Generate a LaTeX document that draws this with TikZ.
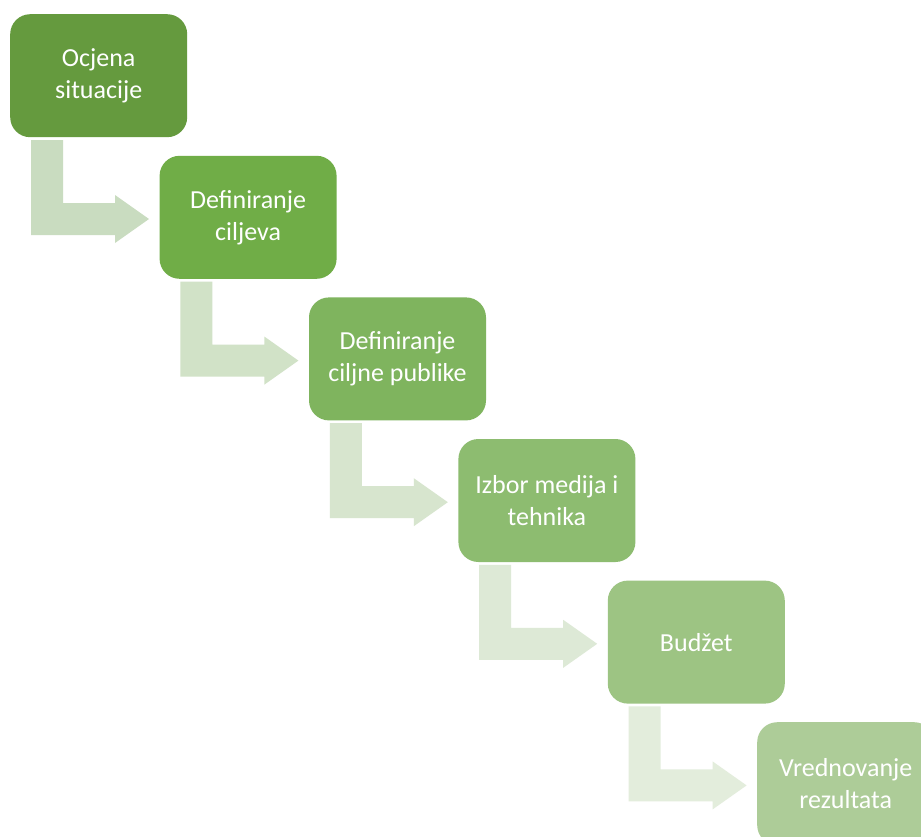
\documentclass[tikz,border=0pt]{standalone}
\usepackage{fontspec}
\setmainfont{Carlito}
\usetikzlibrary{calc}
\definecolor{bA}{HTML}{659A3E}
\definecolor{bB}{HTML}{70AD47}
\definecolor{bC}{HTML}{7FB45E}
\definecolor{bD}{HTML}{8DBC70}
\definecolor{bE}{HTML}{9DC483}
\definecolor{bF}{HTML}{ADCC98}
\definecolor{aA}{HTML}{C9DCC0}
\definecolor{aB}{HTML}{D1E2C7}
\definecolor{aC}{HTML}{D7E5CE}
\definecolor{aD}{HTML}{DDE9D6}
\definecolor{aE}{HTML}{E3EDDC}
\definecolor{aF}{HTML}{E9F0E4}
\tikzset{
  stepbox/.style={rectangle, rounded corners=20pt, minimum width=177pt, minimum height=123pt,
    inner sep=0pt, anchor=north west, text=white, align=center,
    font=\fontsize{26}{32}\selectfont},
}
\newcommand{\bentarrow}[2]{%
  \fill[#2] ($(#1.north west)+(21,126)$) -- ($(#1.north west)+(53,126)$)
    -- ($(#1.north west)+(53,189)$) -- ($(#1.north west)+(105,189)$)
    -- ($(#1.north west)+(105,181)$) -- ($(#1.north west)+(139,205)$)
    -- ($(#1.north west)+(105,229)$) -- ($(#1.north west)+(105,221)$)
    -- ($(#1.north west)+(21,221)$) -- cycle;}
\begin{document}
\begin{tikzpicture}[x=1pt,y=-1pt]
\clip (0,0) rectangle (921,836);
\fill[white] (0,0) rectangle (921,836);
\node[stepbox, fill=bA] (b1) at (10,14) {Ocjena\\situacije};
\node[stepbox, fill=bB] (b2) at (159.4,155.6) {Definiranje\\ciljeva};
\node[stepbox, fill=bC] (b3) at (308.8,297.2) {Definiranje\\ciljne publike};
\node[stepbox, fill=bD] (b4) at (458.2,438.8) {Izbor medija i\\tehnika};
\node[stepbox, fill=bE] (b5) at (607.6,580.4) {Budžet};
\node[stepbox, fill=bF] (b6) at (757,722) {Vrednovanje\\rezultata};
\bentarrow{b1}{aA}
\bentarrow{b2}{aB}
\bentarrow{b3}{aC}
\bentarrow{b4}{aD}
\bentarrow{b5}{aE}
\end{tikzpicture}
\end{document}
